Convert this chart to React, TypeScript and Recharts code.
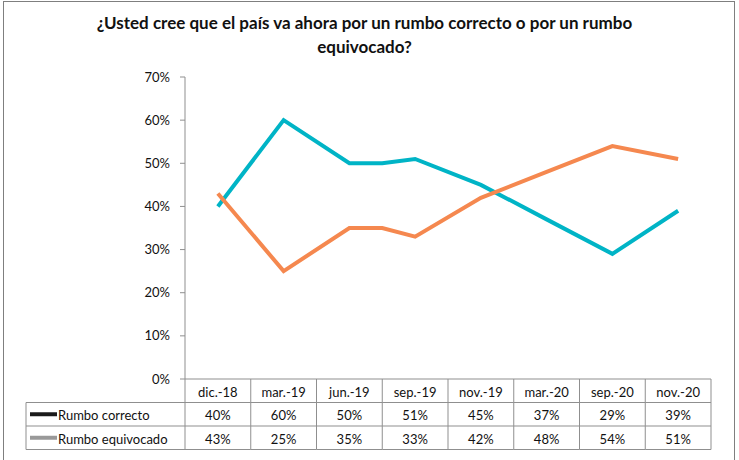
import { LineChart, Line, XAxis, YAxis } from "recharts";

const categories = ["dic.-18", "mar.-19", "jun.-19", "sep.-19", "nov.-19", "mar.-20", "sep.-20", "nov.-20"];
const correcto = [40, 60, 50, 51, 45, 37, 29, 39];
const equivocado = [43, 25, 35, 33, 42, 48, 54, 51];
// the plotted lines have one more survey between jun.-19 and sep.-19 that the table leaves out
const extraSlot = 2;
const extraCorrecto = 50;
const extraEquivocado = 35;
const yTicks = [0, 10, 20, 30, 40, 50, 60, 70];
const seriesNames = ["Rumbo correcto", "Rumbo equivocado"];

const W = 739;
const H = 460;
const PLOT_LEFT = 185;
const PLOT_RIGHT = 711;
const COL_W = (PLOT_RIGHT - PLOT_LEFT) / categories.length;
const TABLE_LEFT = 26;
const ROW_H = 23.5;
const FONT = "Lato, 'Open Sans', sans-serif";
const GRID = "#8f8f8f";
const CYAN = "#00B4C6";
const ORANGE = "#F5884F";

const rows: { x: number; correcto: number; equivocado: number }[] = [];
categories.forEach((_, i) => {
  rows.push({ x: i + 0.5, correcto: correcto[i], equivocado: equivocado[i] });
  if (i === extraSlot) {
    rows.push({ x: i + 1, correcto: extraCorrecto, equivocado: extraEquivocado });
  }
});

function TableColumn(props: any) {
  const { x, y, payload } = props;
  const i = Math.floor(payload.value);
  const left = x - COL_W / 2;
  const right = x + COL_W / 2;
  const values = [correcto[i], equivocado[i]];
  return (
    <g>
      <line x1={left} x2={left} y1={y} y2={y + ROW_H * 3} stroke={GRID} />
      {i === categories.length - 1 && (
        <line x1={right} x2={right} y1={y} y2={y + ROW_H * 3} stroke={GRID} />
      )}
      {[1, 2, 3].map((r) => (
        <line key={r} x1={left} x2={right} y1={y + ROW_H * r} y2={y + ROW_H * r} stroke={GRID} />
      ))}
      <text x={x} y={y + ROW_H / 2 + 1} textAnchor="middle" dominantBaseline="central" fontSize={13} fill="#111">
        {categories[i]}
      </text>
      {values.map((v, r) => (
        <text
          key={r}
          x={x}
          y={y + ROW_H * (r + 1.5) + 1}
          textAnchor="middle"
          dominantBaseline="central"
          fontSize={13}
          fill="#111"
        >
          {v}%
        </text>
      ))}
      {i === 0 && (
        <g>
          <line x1={TABLE_LEFT} x2={TABLE_LEFT} y1={y + ROW_H} y2={y + ROW_H * 3} stroke={GRID} />
          {[1, 2, 3].map((r) => (
            <line key={r} x1={TABLE_LEFT} x2={left} y1={y + ROW_H * r} y2={y + ROW_H * r} stroke={GRID} />
          ))}
          {seriesNames.map((name, r) => (
            <g key={name}>
              <line
                x1={TABLE_LEFT + 4}
                x2={TABLE_LEFT + 31}
                y1={y + ROW_H * (r + 1.5)}
                y2={y + ROW_H * (r + 1.5)}
                stroke={r === 0 ? "#1a1a1a" : "#999"}
                strokeWidth={4}
              />
              <text
                x={TABLE_LEFT + 32}
                y={y + ROW_H * (r + 1.5) + 1}
                dominantBaseline="central"
                fontSize={13}
                fill="#111"
              >
                {name}
              </text>
            </g>
          ))}
        </g>
      )}
    </g>
  );
}

export default function App() {
  return (
    <div style={{ position: "absolute", left: 0, top: 0, width: W, height: H, background: "#fff", fontFamily: FONT, overflow: "hidden" }}>
      <div
        style={{
          position: "absolute",
          left: 3,
          top: 1,
          width: 732,
          height: H + 10,
          border: "1px solid #7f7f7f",
          boxSizing: "border-box",
        }}
      />
      <div
        style={{
          position: "absolute",
          left: 0,
          top: 11,
          width: 729,
          textAlign: "center",
          fontWeight: 700,
          fontSize: 17,
          lineHeight: "24px",
          color: "#111",
        }}
      >
        ¿Usted cree que el país va ahora por un rumbo correcto o por un rumbo
        <br />
        equivocado?
      </div>
      <LineChart
        width={W}
        height={H}
        data={rows}
        margin={{ top: 77, right: W - PLOT_RIGHT, left: 0, bottom: 6 }}
        style={{ position: "absolute", left: 0, top: 0, fontFamily: FONT }}
      >
        <XAxis
          dataKey="x"
          type="number"
          domain={[0, categories.length]}
          ticks={categories.map((_, i) => i + 0.5)}
          interval={0}
          height={H - 379 - 6}
          tickSize={0}
          tickMargin={0}
          tickLine={false}
          axisLine={{ stroke: GRID }}
          tick={(p: any) => <TableColumn {...p} />}
        />
        <YAxis
          type="number"
          domain={[0, 70]}
          ticks={yTicks}
          width={PLOT_LEFT}
          tickSize={5}
          tickMargin={10}
          axisLine={{ stroke: GRID }}
          tickLine={{ stroke: GRID }}
          tick={{ fill: "#111", fontSize: 13 }}
          tickFormatter={(v: number) => `${v}%`}
        />
        <Line
          dataKey="correcto"
          stroke={CYAN}
          strokeWidth={4}
          dot={false}
          activeDot={false}
          isAnimationActive={false}
        />
        <Line
          dataKey="equivocado"
          stroke={ORANGE}
          strokeWidth={4}
          dot={false}
          activeDot={false}
          isAnimationActive={false}
        />
      </LineChart>
    </div>
  );
}
